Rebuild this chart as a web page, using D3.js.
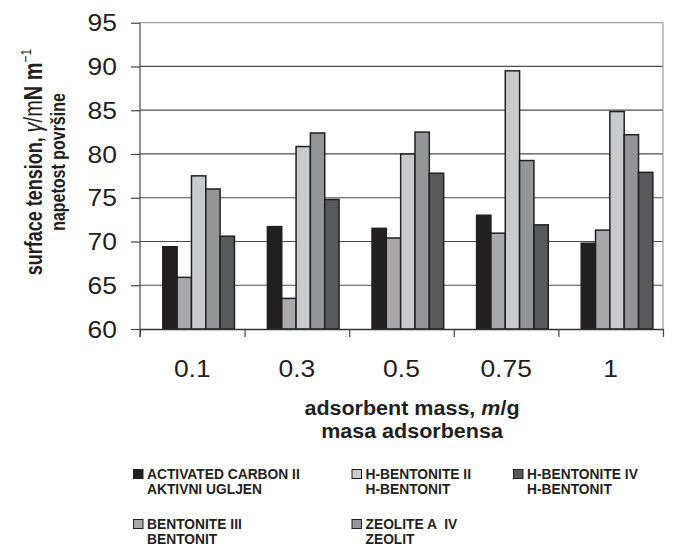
<!DOCTYPE html>
<html>
<head>
<meta charset="utf-8">
<script src="https://cdn.jsdelivr.net/npm/d3@7"></script>
<style>
  html, body { margin: 0; padding: 0; background: #ffffff; }
  svg { display: block; }
  text { font-family: "Liberation Sans", Arial, Helvetica, sans-serif; fill: #231f20; }
</style>
</head>
<body>
<svg id="chart" width="681" height="550"></svg>
<script>
// ---- data ----
const categories = ["0.1", "0.3", "0.5", "0.75", "1"];
const seriesKeys = ["ac", "bent3", "hbent2", "zeo4", "hbent4"];
const activatedCarbonII = [69.4, 71.7, 71.5, 73.0, 69.8];
const bentoniteIII = [65.9, 63.5, 70.4, 70.95, 71.3];
const hBentoniteII = [77.5, 80.85, 80.0, 89.5, 84.85];
const zeoliteAIV = [76.0, 82.4, 82.5, 79.25, 82.2];
const hBentoniteIV = [70.6, 74.8, 77.8, 71.9, 77.9];
const seriesLabels = [
  ["ACTIVATED CARBON II", "AKTIVNI UGLJEN"],
  ["BENTONITE III", "BENTONIT"],
  ["H-BENTONITE II", "H-BENTONIT"],
  ["ZEOLITE A  IV", "ZEOLIT"],
  ["H-BENTONITE IV", "H-BENTONIT"]
];
const seriesColors = ["#231f20", "#a7a9ac", "#c9cacc", "#939598", "#58595b"];
const yTicks = [60, 65, 70, 75, 80, 85, 90, 95];

(function () {
const seriesValues = [activatedCarbonII, bentoniteIII, hBentoniteII, zeoliteAIV, hBentoniteIV];
const rows = categories.map((c, i) => {
  const r = { cat: c };
  seriesKeys.forEach((k, j) => { r[k] = seriesValues[j][i]; });
  return r;
});

// ---- layout ----
const pLeft = 140, pRight = 663, pTop = 22.7, pBottom = 329;
const svg = d3.select("#chart");
const ink = "#231f20";

const x = d3.scaleBand().domain(categories).range([pLeft, pRight]).padding(0);
const bw = x.bandwidth();
const xInner = d3.scaleBand().domain(seriesKeys).range([bw * 0.218, bw * 0.903]).padding(0);
const y = d3.scaleLinear().domain([60, 95]).range([pBottom, pTop]);
const color = d3.scaleOrdinal().domain(seriesKeys).range(seriesColors);

// gridlines
svg.append("g").selectAll("line")
  .data(yTicks.filter(t => t > 60 && t < 95))
  .join("line")
  .attr("x1", pLeft).attr("x2", pRight)
  .attr("y1", d => y(d)).attr("y2", d => y(d))
  .attr("stroke", "#4d4d4d").attr("stroke-width", 1.2);

// plot border (top & right)
svg.append("line").attr("x1", pLeft).attr("x2", pRight).attr("y1", y(95)).attr("y2", y(95))
  .attr("stroke", "#a3a3a3").attr("stroke-width", 1.3);
svg.append("line").attr("x1", pRight).attr("x2", pRight).attr("y1", y(95)).attr("y2", y(60))
  .attr("stroke", "#a3a3a3").attr("stroke-width", 1.3);

// bars
svg.append("g").selectAll("g")
  .data(rows)
  .join("g")
  .attr("transform", d => `translate(${x(d.cat)},0)`)
  .selectAll("rect")
  .data(d => seriesKeys.map(k => ({ key: k, value: d[k] })))
  .join("rect")
  .attr("x", d => xInner(d.key))
  .attr("width", xInner.bandwidth())
  .attr("y", d => y(d.value))
  .attr("height", d => y(60) - y(d.value))
  .attr("fill", d => color(d.key))
  .attr("stroke", ink)
  .attr("stroke-width", 1.5);

// y axis
const yAxis = svg.append("g")
  .attr("transform", `translate(${pLeft},0)`)
  .call(d3.axisLeft(y).tickValues(yTicks).tickSize(9).tickSizeOuter(0).tickFormat(d3.format("d")));
yAxis.select(".domain").attr("stroke", "#555").attr("stroke-width", 1.3)
  .attr("d", `M0,${pTop}V${pBottom + 8}`);
yAxis.selectAll(".tick line").attr("stroke", "#444").attr("stroke-width", 1.2);
yAxis.selectAll(".tick text")
  .attr("x", null).attr("dy", "0.35em")
  .attr("transform", "translate(-23,0) scale(1.15,1)")
  .style("font-size", "23px").style("text-anchor", "end").style("fill", ink);

// x axis: boundary ticks
const xIdx = d3.scaleLinear().domain([0, categories.length]).range([pLeft, pRight]);
const xTickAxis = svg.append("g")
  .attr("transform", `translate(0,${pBottom})`)
  .call(d3.axisBottom(xIdx).tickValues(d3.range(categories.length + 1)).tickSize(8).tickSizeOuter(0).tickFormat(""));
xTickAxis.select(".domain").attr("stroke", "#333").attr("stroke-width", 1.3);
xTickAxis.selectAll(".tick line").attr("stroke", "#444").attr("stroke-width", 1.2);

// x axis labels
const xLab = svg.append("g")
  .attr("transform", `translate(0,${pBottom})`)
  .call(d3.axisBottom(x).tickSize(0).tickSizeOuter(0));
xLab.select(".domain").remove();
xLab.selectAll(".tick text")
  .attr("y", null).attr("dy", null)
  .attr("transform", "translate(0,48) scale(1.15,1)")
  .style("font-size", "23px").style("fill", ink);

// x title
const xt = svg.append("g").attr("transform", "translate(412,0) scale(1.05,1)");
const xt1 = xt.append("text").attr("x", 0).attr("y", 415).attr("text-anchor", "middle")
  .style("font-size", "20.5px").style("font-weight", "bold");
xt1.append("tspan").text("adsorbent mass, ");
xt1.append("tspan").style("font-style", "italic").text("m");
xt1.append("tspan").text("/g");
xt.append("text").attr("x", 0).attr("y", 438).attr("text-anchor", "middle")
  .style("font-size", "20.5px").style("font-weight", "bold").text("masa adsorbensa");

// y title (two rotated lines)
const yt1 = svg.append("text")
  .attr("transform", "translate(41.7,162) rotate(-90) scale(1,1.28)")
  .attr("text-anchor", "middle")
  .style("font-size", "18px").style("font-weight", "bold");
yt1.append("tspan").text("surface tension, ");
yt1.append("tspan").style("font-style", "italic").style("font-weight", "normal").style("font-size", "20px").text("γ");
yt1.append("tspan").style("font-weight", "normal").style("font-size", "20px").text("/m");
yt1.append("tspan").style("font-size", "20px").text("N m");
yt1.append("tspan").style("font-weight", "normal").style("font-size", "12px").attr("dy", "-8").text("−1");
svg.append("text")
  .attr("transform", "translate(65,162) rotate(-90) scale(1,1.3)")
  .attr("text-anchor", "middle")
  .style("font-size", "16px").style("font-weight", "bold")
  .text("napetost površine");

// legend
const legCols = [133.5, 352, 513.5];
const legRows = [469.5, 519.5];
const legend = svg.append("g").selectAll("g")
  .data(seriesKeys.map((k, i) => ({ key: k, i })))
  .join("g")
  .attr("transform", d => `translate(${legCols[Math.floor(d.i / 2)]},${legRows[d.i % 2]})`);
legend.append("rect")
  .attr("x", 0).attr("y", 0).attr("width", 9.5).attr("height", 9)
  .attr("fill", d => color(d.key)).attr("stroke", ink).attr("stroke-width", 1);
legend.each(function(d) {
  const g = d3.select(this);
  seriesLabels[d.i].forEach((line, li) => {
    g.append("text")
      .attr("x", 13.5).attr("y", 9 + li * 15)
      .style("font-size", "13.8px").style("font-weight", "bold")
      .style("white-space", "pre")
      .text(line);
  });
});
})();
</script>
</body>
</html>
